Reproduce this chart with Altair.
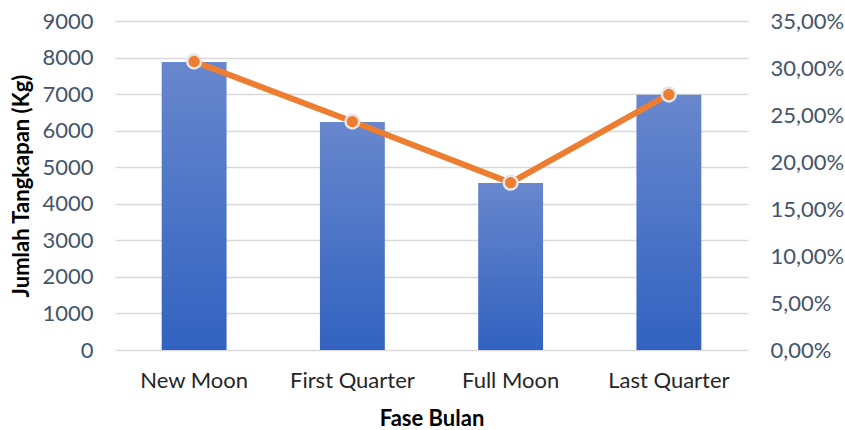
import altair as alt
import pandas as pd

fase = ["New Moon", "First Quarter", "Full Moon", "Last Quarter"]
tangkapan = [7880, 6240, 4570, 6980]
persen = [0.3070, 0.2431, 0.1780, 0.2719]
left_ticks = [0, 1000, 2000, 3000, 4000, 5000, 6000, 7000, 8000, 9000]
right_ticks = [0.0, 0.05, 0.10, 0.15, 0.20, 0.25, 0.30, 0.35]

df = pd.DataFrame({"fase": fase, "kg": tangkapan, "pct": persen})

FONT = "Lato"
LABEL_COLOR = "#44546A"

x = alt.X("fase:N", sort=fase, title="Fase Bulan",
          scale=alt.Scale(paddingInner=0, paddingOuter=0),
          axis=alt.Axis(labelAngle=0, domain=False, ticks=False, labelPadding=20,
                        labelFontSize=22, labelColor="#262626", titleFontSize=22,
                        titleFontWeight="bold", titleColor="#000000", titlePadding=17,
                        labelFont=FONT, titleFont=FONT))

bars = alt.Chart(df).mark_bar(
    width=alt.RelativeBandSize(0.41),
    color=alt.Gradient(gradient="linear",
                       stops=[alt.GradientStop(color="#6887CD", offset=0),
                              alt.GradientStop(color="#3262C0", offset=1)],
                       x1=0, x2=0, y1=0, y2=1)
).encode(
    x=x,
    y=alt.Y("kg:Q", title="Jumlah Tangkapan (Kg)",
            scale=alt.Scale(domain=[0, 9000]),
            axis=alt.Axis(values=left_ticks, format="d",
                          domain=False, ticks=False, labelPadding=22,
                          labelFontSize=22, labelColor=LABEL_COLOR,
                          titleFontSize=22, titleFontWeight="bold", titleColor="#000000",
                          titlePadding=8, gridColor="#D9D9D9", gridWidth=1.5,
                          labelFont=FONT, titleFont=FONT))
)

y_right = alt.Y("pct:Q", title=None,
                scale=alt.Scale(domain=[0, 0.3501]),
                axis=alt.Axis(orient="right", values=right_ticks,
                              labelExpr="replace(format(datum.value, '.2%'), '.', ',')",
                              domain=False, ticks=False, labelPadding=22, grid=False,
                              labelFontSize=22, labelColor=LABEL_COLOR, labelFont=FONT))

line = alt.Chart(df).mark_line(color="#ED7D31", strokeWidth=6).encode(x=x, y=y_right)

points = alt.Chart(df).mark_point(filled=True, color="#ED7D31", size=190,
                                   stroke="#E6E6E6", strokeWidth=2.5, opacity=1).encode(
    x=x, y=y_right
)

chart = alt.layer(bars, line + points).resolve_scale(y="independent").properties(
    width=633, height=329,
    autosize=alt.AutoSizeParams(type="none"),
    padding={"left": 115, "top": 21, "right": 97, "bottom": 80},
    background="white"
).configure_view(stroke=None)

chart.save("out.html", embed_options={"renderer": "svg", "actions": False})
